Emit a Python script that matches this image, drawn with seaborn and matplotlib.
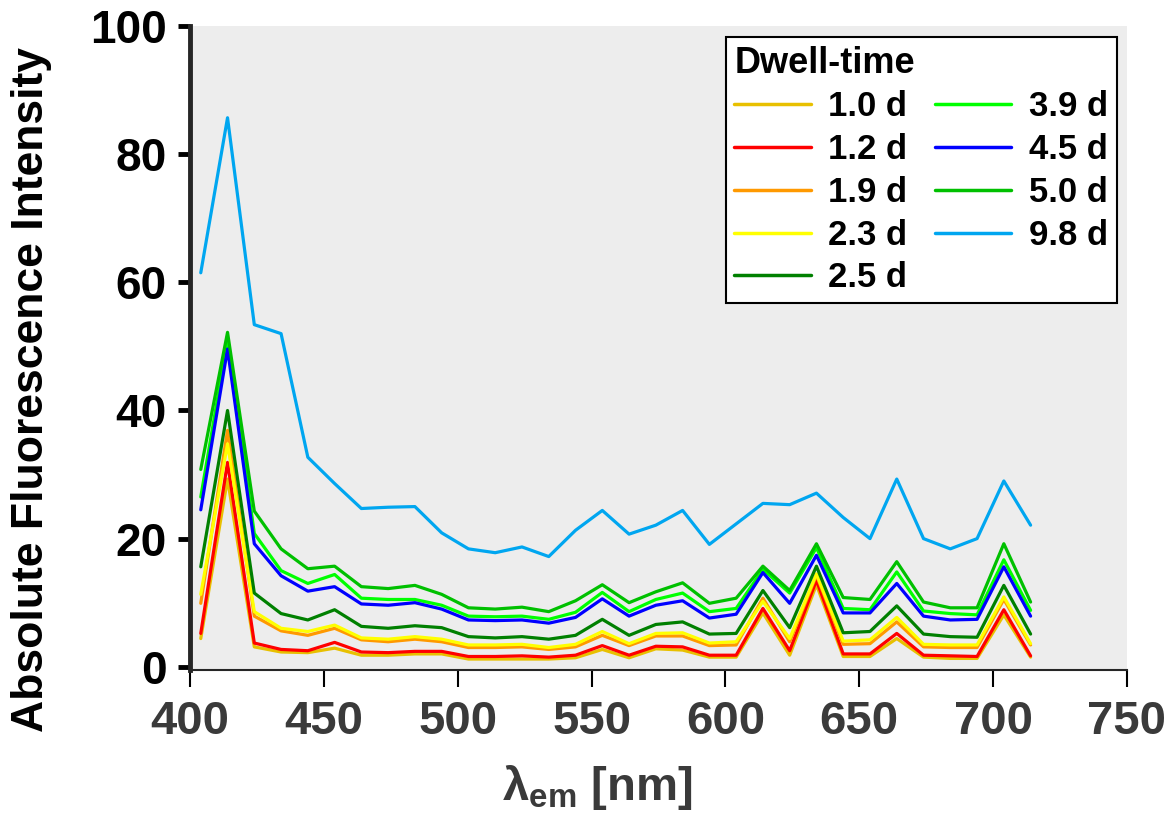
import matplotlib
matplotlib.use("Agg")
import matplotlib.pyplot as plt
import seaborn as sns
import pandas as pd

# emission wavelengths [nm]
wavelength = [404, 414, 424, 434, 444, 454, 464, 474, 484, 494, 504, 514, 524, 534, 544, 554,
              564, 574, 584, 594, 604, 614, 624, 634, 644, 654, 664, 674, 684, 694, 704, 714]

d10 = [4.4, 29.3, 3.1, 2.3, 2.2, 2.9, 1.8, 1.8, 2.0, 2.0, 1.2, 1.2, 1.2, 1.2, 1.4, 2.7,
       1.4, 2.8, 2.6, 1.5, 1.5, 8.4, 1.8, 12.8, 1.6, 1.6, 4.4, 1.5, 1.3, 1.3, 8.1, 1.5]
d12 = [5.2, 31.9, 3.7, 2.7, 2.5, 3.8, 2.3, 2.2, 2.4, 2.4, 1.6, 1.6, 1.7, 1.5, 1.8, 3.3,
       1.8, 3.2, 3.1, 1.8, 1.8, 9.1, 2.5, 13.5, 2.0, 2.0, 5.2, 1.8, 1.7, 1.6, 8.9, 1.7]
d19 = [9.9, 36.9, 7.9, 5.6, 4.9, 6.0, 4.2, 3.9, 4.3, 3.9, 3.0, 3.0, 3.1, 2.7, 3.1, 4.9,
       3.3, 4.8, 4.8, 3.3, 3.4, 10.7, 3.9, 14.3, 3.5, 3.6, 7.0, 3.1, 3.0, 3.0, 10.5, 3.4]
d23 = [11.3, 34.8, 8.6, 6.0, 5.5, 6.5, 4.5, 4.3, 4.7, 4.3, 3.4, 3.4, 3.5, 3.0, 3.5, 5.5,
       3.6, 5.2, 5.3, 3.7, 3.9, 10.2, 4.4, 14.5, 4.0, 4.2, 7.7, 3.5, 3.4, 3.4, 10.9, 3.6]
d25 = [15.6, 40.0, 11.5, 8.3, 7.3, 8.9, 6.3, 6.0, 6.4, 6.1, 4.7, 4.5, 4.7, 4.3, 4.9, 7.4,
       4.9, 6.6, 7.0, 5.1, 5.2, 11.9, 6.1, 15.7, 5.3, 5.5, 9.5, 5.1, 4.7, 4.6, 12.7, 5.1]
d39 = [26.5, 51.0, 20.8, 15.0, 13.0, 14.4, 10.7, 10.5, 10.5, 9.6, 7.9, 7.8, 7.9, 7.4, 8.5, 11.6,
       8.6, 10.5, 11.5, 8.6, 9.1, 15.2, 11.5, 18.6, 9.1, 8.9, 14.8, 8.7, 8.3, 8.1, 16.7, 8.8]
d45 = [24.5, 49.6, 19.2, 14.2, 11.8, 12.5, 9.8, 9.6, 10.0, 9.0, 7.3, 7.2, 7.3, 6.8, 7.7, 10.6,
       7.9, 9.6, 10.3, 7.6, 8.2, 14.7, 9.9, 17.4, 8.4, 8.4, 13.0, 7.9, 7.3, 7.4, 15.6, 7.9]
d50 = [30.8, 52.2, 24.3, 18.4, 15.3, 15.7, 12.5, 12.2, 12.7, 11.3, 9.2, 9.0, 9.3, 8.6, 10.3, 12.8,
       10.0, 11.7, 13.1, 9.9, 10.7, 15.7, 11.9, 19.2, 10.8, 10.5, 16.4, 10.1, 9.2, 9.2, 19.2, 10.1]
d98 = [61.5, 85.7, 53.4, 52.0, 32.7, 28.6, 24.7, 24.9, 25.0, 20.9, 18.4, 17.8, 18.7, 17.2, 21.3, 24.4,
       20.7, 22.1, 24.4, 19.1, 22.3, 25.5, 25.3, 27.1, 23.3, 20.0, 29.3, 20.0, 18.4, 20.0, 29.0, 22.1]

labels = ["1.0 d", "1.2 d", "1.9 d", "2.3 d", "2.5 d", "3.9 d", "4.5 d", "5.0 d", "9.8 d"]
series = [d10, d12, d19, d23, d25, d39, d45, d50, d98]
colors = ["#E8C000", "#FF0000", "#FF9900", "#FFFF00", "#008000",
          "#00FF00", "#0000FF", "#00C000", "#00A6F0"]

df = pd.concat([pd.DataFrame({"wl": wavelength, "val": s, "time": lab})
                for s, lab in zip(series, labels)], ignore_index=True)

sns.set_style("ticks")
plt.rcParams["font.family"] = ["Liberation Sans", "DejaVu Sans"]
plt.rcParams["text.color"] = "black"
plt.rcParams["mathtext.fontset"] = "custom"
plt.rcParams["mathtext.bf"] = "Liberation Sans:bold"
plt.rcParams["mathtext.rm"] = "Liberation Sans:bold"

fig = plt.figure(figsize=(11.71, 8.17), dpi=100)
ax = fig.add_axes([0.1623, 0.180, 0.8001, 0.788])
ax.set_facecolor("#EDEDED")

sns.lineplot(data=df, x="wl", y="val", hue="time", hue_order=labels,
             palette=dict(zip(labels, colors)), linewidth=2.3, ax=ax)

ax.set_xlim(400, 750)
ax.set_ylim(-0.5, 100)
ax.set_xticks([400, 450, 500, 550, 600, 650, 700, 750])
ax.set_yticks([0, 20, 40, 60, 80, 100])

for s in ["top", "right"]:
    ax.spines[s].set_visible(False)
ax.spines["left"].set_linewidth(3.5)
ax.spines["bottom"].set_linewidth(1.5)
ax.tick_params(axis="y", direction="out", length=9, width=3.5, labelsize=33, pad=8,
               labelcolor="black", color="black")
ax.tick_params(axis="x", direction="out", length=12, width=1.5, labelsize=34,
               pad=10, labelcolor="#3A3A3A", color="black")
for t in ax.get_yticklabels() + ax.get_xticklabels():
    t.set_fontweight("bold")

ax.set_ylabel("Absolute Fluorescence Intensity", fontsize=32, fontweight="bold", color="black")
ax.yaxis.set_label_coords(-0.147, 0.435)
ax.set_xlabel(r"λ$_{\bf em}$ [nm]", fontsize=34, fontweight="bold", color="#3A3A3A")
ax.xaxis.set_label_coords(0.435, -0.145)

handles, labs = ax.get_legend_handles_labels()
for h in handles:
    h.set_linewidth(2.5)
leg = ax.legend(handles, labs, title="Dwell-time", ncol=2, loc="upper right",
                bbox_to_anchor=(0.989, 0.983), borderaxespad=0,
                prop={"weight": "bold", "size": 25},
                title_fontproperties={"weight": "bold", "size": 26},
                frameon=True, fancybox=False, edgecolor="black", framealpha=1,
                handlelength=2.2, handletextpad=0.5, columnspacing=0.8,
                labelspacing=0.28, borderpad=0.25, alignment="left")
leg.get_frame().set_linewidth(1.5)

fig.savefig("out.png", dpi=100)
